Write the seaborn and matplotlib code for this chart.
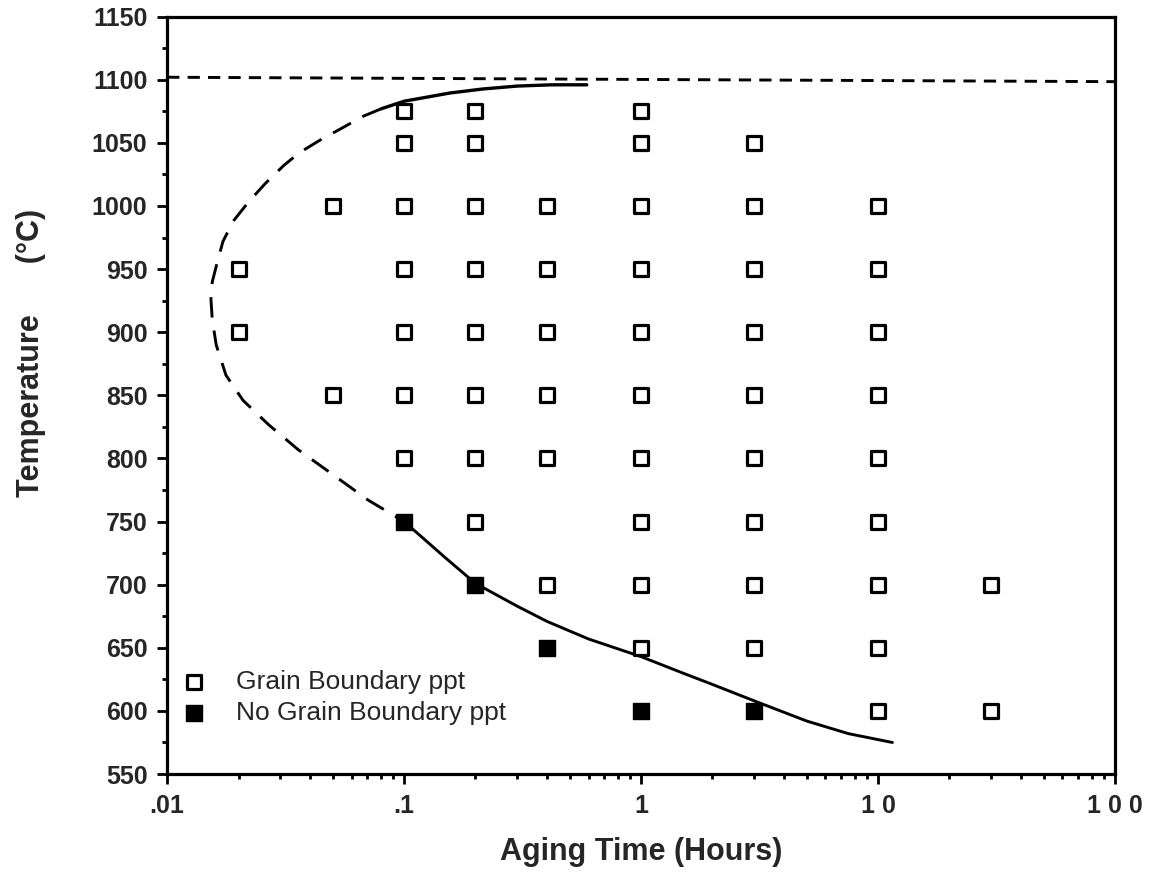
import numpy as np
import pandas as pd
import matplotlib
matplotlib.use("Agg")
import matplotlib.pyplot as plt
import seaborn as sns
from matplotlib.ticker import LogLocator, FixedLocator, NullFormatter, MultipleLocator

# Aging experiments: (time in hours, temperature in C)
gb_time = [0.1, 0.2, 1,
           0.1, 0.2, 1, 3,
           0.05, 0.1, 0.2, 0.4, 1, 3, 10,
           0.02, 0.1, 0.2, 0.4, 1, 3, 10,
           0.02, 0.1, 0.2, 0.4, 1, 3, 10,
           0.05, 0.1, 0.2, 0.4, 1, 3, 10,
           0.1, 0.2, 0.4, 1, 3, 10,
           0.2, 1, 3, 10,
           0.4, 1, 3, 10, 30,
           1, 3, 10,
           10, 30]
gb_temp = [1075, 1075, 1075,
           1050, 1050, 1050, 1050,
           1000, 1000, 1000, 1000, 1000, 1000, 1000,
           950, 950, 950, 950, 950, 950, 950,
           900, 900, 900, 900, 900, 900, 900,
           850, 850, 850, 850, 850, 850, 850,
           800, 800, 800, 800, 800, 800,
           750, 750, 750, 750,
           700, 700, 700, 700, 700,
           650, 650, 650,
           600, 600]

nogb_time = [0.1, 0.2, 0.4, 1, 3]
nogb_temp = [750, 700, 650, 600, 600]

# Solvus line
solvus_time = [0.01, 100]
solvus_temp = [1102, 1098.5]

# C-curve, extrapolated (dashed) nose region
nose_time = [0.080, 0.067, 0.055, 0.044, 0.036, 0.031, 0.026, 0.022, 0.019,
             0.0172, 0.0163, 0.0155, 0.0153, 0.0155, 0.0161, 0.0177, 0.0209,
             0.0267, 0.0357, 0.0502, 0.0705, 0.1]
nose_temp = [1077, 1071, 1062, 1052, 1042, 1032, 1018, 1003, 988,
             972, 956, 940, 926, 910, 890, 866, 846,
             827, 807, 787, 767, 750]

# C-curve, measured (solid) upper and lower branches
upper_time = [0.080, 0.1, 0.156, 0.215, 0.3, 0.42, 0.59]
upper_temp = [1077, 1083, 1089.5, 1092.7, 1095, 1096, 1096]
lower_time = [0.1, 0.15, 0.2, 0.3, 0.4, 0.6, 1.0, 1.5, 2.0, 3.0, 5.0, 7.5, 11.5]
lower_temp = [750, 721, 701, 683, 671, 657, 643, 630, 621, 608, 592, 582, 575]

sns.set_style("ticks")
plt.rcParams["font.family"] = ["Liberation Sans", "DejaVu Sans"]

fig, ax = plt.subplots(figsize=(11.53, 8.76), dpi=100)
fig.subplots_adjust(left=0.145, right=0.967, top=0.981, bottom=0.1164)

lw = 2.1
sns.lineplot(x=solvus_time, y=solvus_temp, ax=ax, color="black", lw=lw,
             sort=False, estimator=None, linestyle=(0, (4.2, 2.8)))
sns.lineplot(x=nose_time, y=nose_temp, ax=ax, color="black", lw=lw,
             sort=False, estimator=None, linestyle=(0, (7, 4.5)))
sns.lineplot(x=upper_time, y=upper_temp, ax=ax, color="black", lw=lw + 0.3,
             sort=False, estimator=None)
sns.lineplot(x=lower_time, y=lower_temp, ax=ax, color="black", lw=lw,
             sort=False, estimator=None)

sns.scatterplot(x=gb_time, y=gb_temp, ax=ax, marker="s", s=110,
                facecolor="white", edgecolor="black", linewidth=2.3,
                label="Grain Boundary ppt", zorder=5)
sns.scatterplot(x=nogb_time, y=nogb_temp, ax=ax, marker="s", s=130,
                color="black", edgecolor="black", linewidth=1,
                label="No Grain Boundary ppt", zorder=5)

ax.set_xscale("log")
ax.set_xlim(0.01, 100)
ax.set_ylim(550, 1150)

ax.xaxis.set_major_locator(FixedLocator([0.01, 0.1, 1, 10, 100]))
ax.set_xticklabels([".01", ".1", "1", "1 0", "1 0 0"])
ax.xaxis.set_minor_locator(LogLocator(base=10, subs=np.arange(2, 10)))
ax.xaxis.set_minor_formatter(NullFormatter())
ax.yaxis.set_major_locator(MultipleLocator(50))
ax.yaxis.set_minor_locator(MultipleLocator(25))

ax.tick_params(axis="both", which="major", direction="out", length=7.2,
               width=2, labelsize=18, color="black")
ax.tick_params(axis="both", which="minor", direction="out", length=3.6,
               width=2, color="black")
ax.tick_params(axis="x", which="major", pad=7.5)
ax.tick_params(axis="y", which="major", pad=7)
for lab in ax.get_xticklabels() + ax.get_yticklabels():
    lab.set_fontweight("bold")

for sp in ax.spines.values():
    sp.set_linewidth(2.3)
    sp.set_color("black")

ax.set_xlabel("Aging Time (Hours)", fontsize=22, fontweight="bold", labelpad=13)
ax.set_ylabel("Temperature      (°C)", fontsize=22, fontweight="bold")
ax.yaxis.set_label_coords(-0.1276, 0.5555)

leg = ax.legend(loc="center left", bbox_to_anchor=(0.003, 0.101), frameon=False,
                fontsize=19, handlelength=1.0, handletextpad=1.09,
                borderaxespad=0.0, borderpad=0.4, labelspacing=0.25,
                markerscale=1.0)

fig.savefig("out.png", dpi=100)
